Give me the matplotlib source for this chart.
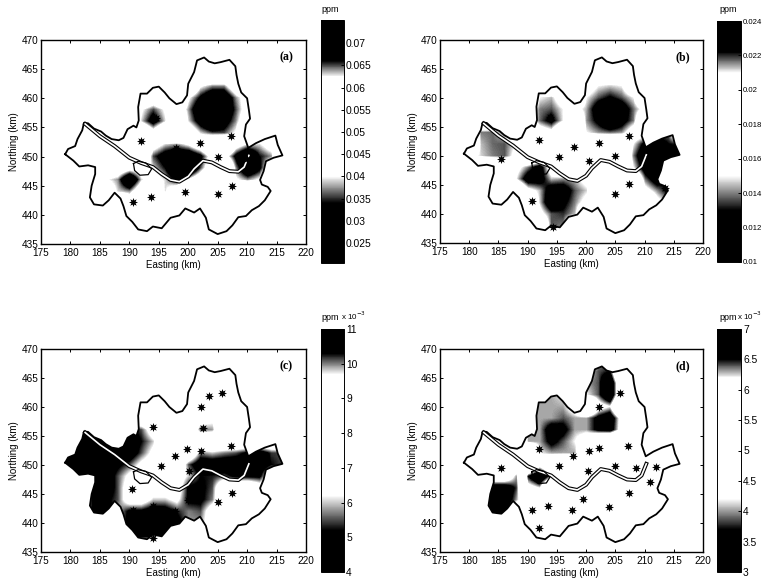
import numpy as np
import matplotlib
matplotlib.use('Agg')
import matplotlib.pyplot as plt
from matplotlib.colors import LinearSegmentedColormap
from matplotlib.patches import Polygon

plt.rcParams['font.family'] = ['Liberation Sans', 'DejaVu Sans']

# grid nodes of the concentration maps (km), all values in 1e-3 ppm
grid_x = np.arange(178, 220, 2)
grid_y = np.arange(468, 434, -2)

# columns:  178 180 182 184 186 188 190 192 194 196 198 200 202 204 206 208 210 212 214 216 218
field_a = np.array([
    [50, 50, 50, 50, 50, 50, 50, 50, 50, 50, 50, 50, 50, 50, 50, 50, 50, 50, 50, 50, 50],
    [50, 50, 50, 50, 50, 50, 50, 50, 50, 50, 50, 50, 50, 50, 50, 50, 50, 50, 50, 50, 50],
    [50, 50, 50, 50, 50, 50, 50, 50, 50, 50, 50, 50, 52, 54, 54, 50, 50, 50, 50, 50, 50],
    [50, 50, 50, 50, 50, 50, 50, 50, 50, 50, 50, 54, 62, 64, 64, 58, 50, 50, 50, 50, 50],
    [50, 50, 50, 50, 50, 50, 50, 54, 58, 54, 50, 62, 66.5, 70, 70, 64, 60, 50, 50, 50, 50],
    [50, 50, 50, 50, 50, 50, 50, 62, 65, 62, 58, 64, 70, 74, 70, 65, 60, 50, 50, 50, 50],
    [50, 50, 50, 50, 50, 50, 50, 63, 68, 63, 54, 63, 68, 73, 68, 64, 58, 50, 50, 50, 50],
    [50, 50, 50, 50, 50, 50, 50, 54, 60, 54, 50, 58, 63, 65, 65, 62, 50, 50, 50, 50, 50],
    [50, 50, 50, 50, 50, 50, 50, 50, 60, 63, 64, 62, 58, 52, 50, 60, 63, 63, 60, 50, 50],
    [50, 50, 50, 50, 50, 50, 50, 54, 65, 68, 70, 70, 67, 60, 60, 67, 72, 66, 64, 50, 50],
    [50, 50, 50, 50, 58, 58, 60, 60, 63, 66, 72, 73, 65, 58, 50, 64, 71, 67, 58, 50, 50],
    [50, 50, 50, 50, 62, 64, 72, 63, 60, 63, 67, 62, 58, 50, 50, 62, 64, 62, 50, 50, 50],
    [50, 50, 50, 50, 58, 63, 64, 58, 54, 63, 58, 50, 50, 50, 50, 50, 50, 50, 50, 50, 50],
    [50, 50, 50, 50, 50, 52, 58, 50, 50, 50, 50, 50, 50, 50, 50, 50, 50, 50, 50, 50, 50],
    [50, 50, 50, 50, 50, 50, 50, 50, 50, 50, 50, 50, 50, 50, 50, 50, 50, 50, 50, 50, 50],
    [50, 50, 50, 50, 50, 50, 50, 50, 50, 50, 50, 50, 50, 50, 50, 50, 50, 50, 50, 50, 50],
    [50, 50, 50, 50, 50, 50, 50, 50, 50, 50, 50, 50, 50, 50, 50, 50, 50, 50, 50, 50, 50],
])

field_b = np.array([
    [18, 18, 18, 18, 18, 18, 18, 18, 18, 18, 18, 18, 18, 18, 18, 18, 18, 18, 18, 18, 18],
    [18, 18, 18, 18, 18, 18, 18, 18, 18, 18, 18, 18, 18, 18, 18, 18, 18, 18, 18, 18, 18],
    [18, 18, 18, 18, 18, 18, 18, 18, 18, 18, 18, 18, 19, 19, 19, 18, 18, 18, 18, 18, 18],
    [18, 18, 18, 18, 18, 18, 18, 18, 18, 18, 18, 20, 21, 21.2, 21, 19, 18, 18, 18, 18, 18],
    [18, 18, 18, 18, 18, 18, 18, 21, 21.3, 20, 18, 21, 21.8, 22.3, 21.8, 21, 18, 18, 18, 18, 18],
    [18, 18, 18, 18, 18, 18, 20, 21.6, 21.8, 21, 20.5, 21.4, 23, 24, 23, 21.7, 20.5, 18, 18, 18, 18],
    [18, 18, 18, 18, 18, 18, 20, 21.7, 22.6, 21, 18, 21.5, 22.5, 24, 22.8, 21.6, 18, 18, 18, 18, 18],
    [18, 18, 21.6, 21.7, 21, 18, 18, 20, 20.5, 18, 18, 21, 21.5, 21.7, 21.5, 20, 20, 21.5, 21.6, 18, 18],
    [18, 18, 21.3, 21.7, 21.8, 21, 18, 18, 18, 18, 18, 18, 18, 18, 18, 21, 22.6, 23, 22.2, 22, 18],
    [18, 20.5, 21.2, 21.6, 21.8, 20.5, 18, 18, 18, 18, 18, 18, 18, 18, 18, 21.6, 23.5, 24, 23, 22.5, 18],
    [18, 18, 18, 18, 18, 20.5, 21.6, 23, 20, 18, 18, 18, 18, 18, 18, 21, 23, 23.5, 21.5, 18, 18],
    [18, 18, 18, 18, 18, 21, 23, 22.8, 21.3, 21.5, 21.3, 20.5, 18, 18, 18, 18, 21.7, 23, 21.8, 18, 18],
    [18, 18, 18, 18, 18, 18, 20.5, 21.3, 23, 23, 21.8, 21.2, 18, 18, 18, 18, 20.5, 21.5, 22.5, 18, 18],
    [18, 18, 18, 18, 18, 18, 18, 21.2, 23.5, 22.5, 21.6, 20.5, 18, 18, 18, 18, 18, 20.5, 21.4, 18, 18],
    [18, 18, 18, 18, 18, 18, 18, 20.5, 21.8, 22, 21.3, 18, 18, 18, 18, 18, 18, 18, 18, 18, 18],
    [18, 18, 18, 18, 18, 18, 18, 18, 21.8, 21.6, 18, 18, 18, 18, 18, 18, 18, 18, 18, 18, 18],
    [18, 18, 18, 18, 18, 18, 18, 18, 18, 18, 18, 18, 18, 18, 18, 18, 18, 18, 18, 18, 18],
])

field_c = np.array([
    [8, 8, 8, 8, 8, 8, 8, 8, 8, 8, 8, 8, 8, 8, 8, 8, 8, 8, 8, 8, 8],
    [8, 8, 8, 8, 8, 8, 8, 8, 8, 8, 8, 8, 8, 8, 8, 8, 8, 8, 8, 8, 8],
    [8, 8, 8, 8, 8, 8, 8, 8, 8, 8, 8, 8, 8, 8, 8, 8, 8, 8, 8, 8, 8],
    [8, 8, 8, 8, 8, 8, 8, 8, 8, 8, 8, 8, 8, 8, 8, 8, 8, 8, 8, 8, 8],
    [8, 8, 8, 8, 8, 8, 8, 8, 8, 8, 8, 8, 8, 8, 8, 8, 8, 8, 8, 8, 8],
    [8, 8, 8, 8, 8, 8, 8, 8, 8, 8, 8, 8, 7, 6.5, 8, 8, 8, 8, 8, 8, 8],
    [8, 8, 5, 5, 8, 8, 5, 5.5, 7, 8, 8, 8, 5.6, 5.8, 8, 8, 8, 8, 8, 8, 8],
    [6, 6, 4.5, 4.5, 4.5, 4.5, 4.5, 5.2, 6, 8, 8, 8, 8, 8, 8, 8, 8, 8, 8, 8, 8],
    [4.5, 4.5, 4.5, 4.5, 4.5, 4.5, 4.5, 5.5, 6.5, 8, 8, 8, 5.7, 6, 5.7, 5.5, 5, 4.5, 5.4, 5.5, 8],
    [4.5, 4.5, 4.5, 4.5, 4.5, 5, 5.5, 6.5, 7, 8, 8, 5.5, 4.5, 4.5, 4.5, 4.5, 4.8, 4.5, 5.2, 5.5, 8],
    [8, 4.5, 4.5, 4.5, 4.5, 5.5, 6.5, 7, 7, 7, 7, 6, 5.2, 5.3, 5.5, 5, 5, 5, 7, 8, 8],
    [8, 8, 8, 4.5, 4.5, 5.5, 7, 7, 7, 7, 7, 5, 5, 5.5, 8, 8, 8, 7, 8, 8, 8],
    [8, 8, 8, 4.5, 5, 5.5, 7, 7, 6, 6, 6.5, 5, 5, 5.7, 8, 8, 8, 8, 8, 8, 8],
    [8, 8, 8, 4.5, 4.5, 6, 5, 5, 4.6, 4.7, 5.3, 5.7, 5.5, 7, 8, 8, 8, 8, 8, 8, 8],
    [8, 8, 8, 8, 6, 6, 4.8, 4.7, 4.7, 4.8, 4.8, 5.8, 5.8, 7, 8, 8, 8, 8, 8, 8, 8],
    [8, 8, 8, 8, 8, 8, 5, 4.5, 4.5, 4.7, 5, 8, 8, 8, 8, 8, 8, 8, 8, 8, 8],
    [8, 8, 8, 8, 8, 8, 8, 8, 8, 8, 8, 8, 8, 8, 8, 8, 8, 8, 8, 8, 8],
])

field_d = np.array([
    [5, 5, 5, 5, 5, 5, 5, 5, 5, 5, 5, 5, 6.3, 6.4, 5, 5, 5, 5, 5, 5, 5],
    [5, 5, 5, 5, 5, 5, 5, 5, 5, 5, 5, 6.2, 6.4, 6.5, 5, 5, 5, 5, 5, 5, 5],
    [5, 5, 5, 5, 5, 5, 5, 5, 5, 5, 5, 6.3, 6.4, 7, 5.5, 5, 5, 5, 5, 5, 5],
    [5, 5, 5, 5, 5, 5, 5, 6.3, 6.3, 6.2, 5, 6.2, 6.4, 7, 5.5, 5, 5, 5, 5, 5, 5],
    [5, 5, 5, 5, 5, 5, 6.3, 6.3, 6.3, 6.3, 6, 5, 6, 6.2, 5, 5, 5, 5, 5, 5, 5],
    [5, 5, 5, 5, 5, 5, 6.3, 6.3, 6.3, 6.4, 6.3, 6.3, 6.6, 6.8, 6, 5, 5, 5, 5, 5, 5],
    [5, 5, 5, 5, 5, 5, 6.3, 6.3, 6.7, 6.6, 6.3, 6.3, 6.6, 6.7, 6, 5, 5, 5, 5, 5, 5],
    [5, 5, 5, 5, 5, 5, 6.3, 6.3, 6.6, 6.4, 6.2, 5.9, 5.3, 5, 5, 5, 5, 5, 5, 5, 5],
    [5, 5, 5, 5, 5, 5, 5, 6.2, 6.3, 6.3, 6.3, 5.5, 5, 5, 5, 5, 5, 5, 5, 5, 5],
    [5, 5, 5, 5, 5, 5, 5, 6, 5.5, 5, 5, 5, 5, 6, 6.2, 6, 6.1, 5.5, 5, 5, 5],
    [5, 5, 5, 5, 5, 4, 6.5, 7, 6.3, 5, 5, 5, 5, 5, 5, 5, 6, 6.2, 5, 5, 5],
    [5, 5, 5, 3.2, 3.2, 3.8, 6, 6.2, 5, 5, 5, 5, 5, 5, 5, 5, 5.5, 6, 5.2, 5, 5],
    [5, 5, 5, 3.2, 3.2, 4, 5, 5, 5, 5, 5, 5, 5, 5, 5, 5, 5, 5, 5, 5, 5],
    [5, 5, 5, 3.3, 3.3, 5, 5, 5, 5, 5, 5, 5, 5, 5, 5, 5, 5, 5, 5, 5, 5],
    [5, 5, 5, 5, 5, 5, 5, 5, 5, 5, 5, 5, 5, 5, 5, 5, 5, 5, 5, 5, 5],
    [5, 5, 5, 5, 5, 5, 5, 5, 5, 5, 5, 5, 5, 5, 5, 5, 5, 5, 5, 5, 5],
    [5, 5, 5, 5, 5, 5, 5, 5, 5, 5, 5, 5, 5, 5, 5, 5, 5, 5, 5, 5, 5],
])

# city boundary and river (km)
border_x = [179.1, 179.6, 180.8, 181.2, 182.0, 182.3, 183.0, 184.0, 185.2, 186.0, 187.0, 188.2, 189.0, 189.7, 190.7, 191.2, 191.6, 191.5, 191.9, 193.0, 194.0, 195.0, 196.0, 196.8, 198.0, 199.0, 199.8, 200.0, 201.0, 201.5, 202.7, 203.5, 204.5, 205.5, 207.0, 208.0, 208.2, 208.5, 209.0, 210.0, 210.3, 210.5, 209.8, 209.5, 210.2, 211.5, 213.0, 214.8, 215.2, 216.0, 214.5, 213.2, 212.8, 212.2, 212.5, 213.5, 214.0, 213.0, 212.0, 210.8, 209.8, 208.5, 207.5, 206.5, 205.0, 203.5, 203.0, 202.0, 201.0, 199.5, 198.5, 197.0, 195.5, 194.0, 193.0, 191.5, 190.5, 189.5, 189.0, 188.5, 187.5, 186.5, 185.5, 184.0, 183.3, 183.6, 184.2, 184.2, 183.0, 181.5, 180.5, 179.1]
border_y = [450.4, 451.3, 451.8, 453.0, 454.5, 455.8, 455.7, 454.8, 454.3, 453.6, 453.0, 452.8, 453.2, 454.7, 455.3, 455.0, 456.2, 458.5, 460.8, 460.8, 461.8, 462.0, 461.0, 460.0, 459.0, 459.3, 460.5, 462.5, 464.5, 466.5, 467.0, 466.3, 466.0, 466.2, 466.6, 465.5, 464.0, 462.5, 461.0, 460.0, 458.0, 456.5, 455.5, 453.5, 451.5, 452.3, 453.0, 453.6, 452.0, 450.2, 449.8, 449.2, 447.5, 446.0, 445.2, 444.8, 444.1, 442.5, 441.5, 440.8, 439.8, 439.6, 438.2, 437.2, 436.7, 437.5, 439.5, 441.1, 440.4, 441.1, 439.9, 439.5, 437.7, 438.0, 437.2, 437.5, 438.8, 439.8, 441.5, 442.8, 443.8, 442.5, 441.6, 441.8, 443.0, 445.0, 447.0, 448.2, 448.5, 448.3, 449.3, 450.4]
river_x = [182.5, 185.0, 187.5, 190.0, 192.0, 194.0, 195.5, 197.0, 198.5, 200.0, 201.0, 202.5, 204.0, 205.5, 207.0, 208.5, 209.5, 210.3]
river_y = [455.6, 453.5, 451.8, 449.8, 448.9, 448.2, 447.0, 446.0, 445.7, 446.6, 447.9, 449.3, 449.0, 448.2, 447.5, 447.4, 448.2, 450.2]
island_x = [190.7, 191.5, 192.8, 193.8, 193.2, 191.8, 190.9, 190.7]
island_y = [448.8, 449.2, 448.9, 447.9, 446.9, 446.8, 447.6, 448.8]

# monitoring stations (km)
stations_a_x = [192.0, 194.5, 198.0, 202.0, 205.0, 207.3, 207.4, 205.0, 199.5, 193.7, 190.7, 190.0, 198.8, 210.0, 204.5]
stations_a_y = [452.7, 456.7, 451.5, 452.3, 450.0, 453.5, 445.0, 443.5, 444.0, 443.0, 442.2, 446.3, 448.5, 449.5, 457.3]
stations_b_x = [185.5, 192.0, 193.9, 198.0, 195.3, 200.5, 202.2, 205.0, 207.3, 207.4, 205.0, 194.9, 190.7, 190.0, 203.0, 211.0, 212.0, 213.5, 194.3]
stations_b_y = [449.5, 452.7, 456.7, 451.5, 449.8, 449.2, 452.3, 450.0, 453.5, 445.2, 443.5, 442.5, 442.2, 446.0, 457.0, 450.0, 448.0, 444.5, 437.7]
stations_c_x = [190.4, 194.0, 195.3, 197.8, 199.8, 200.2, 202.2, 202.2, 203.5, 205.8, 202.5, 207.2, 207.4, 205.0, 190.7, 194.0, 200.0, 197.7, 194.0, 185.5, 181.0]
stations_c_y = [445.8, 456.5, 449.8, 451.6, 452.8, 449.0, 452.4, 460.0, 461.9, 462.5, 456.3, 453.3, 445.2, 443.6, 442.2, 443.0, 444.0, 442.0, 437.5, 443.0, 451.0]
stations_d_x = [185.5, 191.9, 193.9, 195.3, 197.8, 200.5, 202.2, 200.4, 202.2, 205.8, 207.2, 205.0, 208.6, 212.0, 211.0, 207.4, 204.0, 199.5, 197.5, 193.5, 190.7, 191.9, 191.0, 203.5]
stations_d_y = [449.5, 452.7, 456.4, 449.8, 451.6, 452.5, 453.0, 449.0, 460.0, 462.5, 453.3, 449.8, 449.5, 449.6, 447.0, 445.2, 442.7, 444.2, 442.3, 443.0, 442.3, 439.2, 448.0, 464.0]

x_ticks = [175, 180, 185, 190, 195, 200, 205, 210, 215, 220]
y_ticks = [435, 440, 445, 450, 455, 460, 465, 470]

cbar_ticks_a = [25, 30, 35, 40, 45, 50, 55, 60, 65, 70]
cbar_labels_a = ['0.025', '0.03', '0.035', '0.04', '0.045', '0.05', '0.055', '0.06', '0.065', '0.07']
cbar_ticks_b = [10, 12, 14, 16, 18, 20, 22, 24]
cbar_labels_b = ['0.01', '0.012', '0.014', '0.016', '0.018', '0.02', '0.022', '0.024']
cbar_ticks_c = [4, 5, 6, 7, 8, 9, 10, 11]
cbar_labels_c = ['4', '5', '6', '7', '8', '9', '10', '11']
cbar_ticks_d = [3, 3.5, 4, 4.5, 5, 5.5, 6, 6.5, 7]
cbar_labels_d = ['3', '3.5', '4', '4.5', '5', '5.5', '6', '6.5', '7']


def grey_map(lo1, lo2, hi1, hi2, vmin, vmax):
    # black ends, white middle, as on the printed colour bars
    s = lambda v: (v - vmin) / (vmax - vmin)
    return LinearSegmentedColormap.from_list('g', [
        (0, 'black'), (s(lo1), 'black'), (s(lo2), 'white'),
        (s(hi1), 'white'), (s(hi2), 'black'), (1, 'black')], N=512)


W, H = 762.0, 578.0
fig = plt.figure(figsize=(7.62, 5.78), dpi=100)


def panel(field, sx, sy, name, box, cbox, vmin, vmax, breaks, cticks, clabels, csize):
    ax = fig.add_axes([box[0] / W, 1 - box[3] / H, (box[2] - box[0]) / W, (box[3] - box[1]) / H])
    cmap = grey_map(breaks[0], breaks[1], breaks[2], breaks[3], vmin, vmax)
    im = ax.imshow(field, extent=[grid_x[0] - 1, grid_x[-1] + 1, grid_y[-1] - 1, grid_y[0] + 1],
                   cmap=cmap, vmin=vmin, vmax=vmax, interpolation='bilinear', aspect='auto')
    clip = Polygon(np.column_stack([border_x, border_y]), closed=True, transform=ax.transData,
                   facecolor='none', edgecolor='none')
    ax.add_patch(clip)
    im.set_clip_path(clip)
    ax.plot(border_x, border_y, color='black', lw=1.3)
    ax.plot(river_x, river_y, color='black', lw=2.8)
    ax.plot(river_x, river_y, color='white', lw=1.2)
    ax.plot(island_x, island_y, color='black', lw=0.9)
    ax.plot(sx, sy, linestyle='none', marker=(8, 1, 0), color='black', ms=6.5, mew=0)
    ax.set_xlim(175, 220)
    ax.set_ylim(435, 470)
    ax.set_xticks(x_ticks)
    ax.set_yticks(y_ticks)
    ax.tick_params(direction='in', length=2, width=0.7, top=True, right=True, labelsize=7.2, pad=2)
    ax.tick_params(axis='x', pad=3)
    ax.set_xlabel('Easting (km)', fontsize=7, labelpad=1)
    ax.set_ylabel('Northing (km)', fontsize=7, labelpad=1.5)
    ax.text(0.925, 0.915, name, transform=ax.transAxes, ha='center', va='center',
            fontsize=8.5, fontweight='bold', family='Liberation Serif')
    for sp in ax.spines.values():
        sp.set_linewidth(1.0)

    cax = fig.add_axes([cbox[0] / W, 1 - cbox[3] / H, (cbox[2] - cbox[0]) / W, (cbox[3] - cbox[1]) / H])
    cb = fig.colorbar(im, cax=cax)
    cb.set_ticks(cticks)
    cb.set_ticklabels(clabels)
    cb.ax.tick_params(direction='in', length=2, width=0.7, labelsize=csize, pad=1.5)
    cb.outline.set_linewidth(0.7)


panel(field_a, stations_a_x, stations_a_y, '(a)', (41, 40, 306, 244), (321, 20, 344, 263),
      20.5, 75.2, (34, 40, 62.5, 66), cbar_ticks_a, cbar_labels_a, 7.4)
panel(field_b, stations_b_x, stations_b_y, '(b)', (440, 40, 703, 243), (717, 21, 741, 262),
      10, 24, (13, 15, 21, 22.2), cbar_ticks_b, cbar_labels_b, 5.6)
panel(field_c, stations_c_x, stations_c_y, '(c)', (41, 349, 306, 552), (321, 329, 344, 572),
      4, 11, (5.2, 6.2, 9.7, 10.3), cbar_ticks_c, cbar_labels_c, 7.4)
panel(field_d, stations_d_x, stations_d_y, '(d)', (440, 349, 703, 552), (717, 329, 741, 572),
      3, 7, (3.7, 4.2, 6.2, 6.5), cbar_ticks_d, cbar_labels_d, 7.4)

fig.text(330 / W, 1 - 10 / H, 'ppm', fontsize=6.5, ha='center', va='center')
fig.text(728 / W, 1 - 10 / H, 'ppm', fontsize=6.5, ha='center', va='center')
fig.text(330 / W, 1 - 318 / H, 'ppm', fontsize=6.5, ha='center', va='center')
fig.text(728 / W, 1 - 318 / H, 'ppm', fontsize=6.5, ha='center', va='center')
fig.text(354 / W, 1 - 316 / H, r'x 10$^{-3}$', fontsize=5.8, ha='center', va='center')
fig.text(750 / W, 1 - 316 / H, r'x 10$^{-3}$', fontsize=5.8, ha='center', va='center')

fig.savefig('out.png', dpi=100)
